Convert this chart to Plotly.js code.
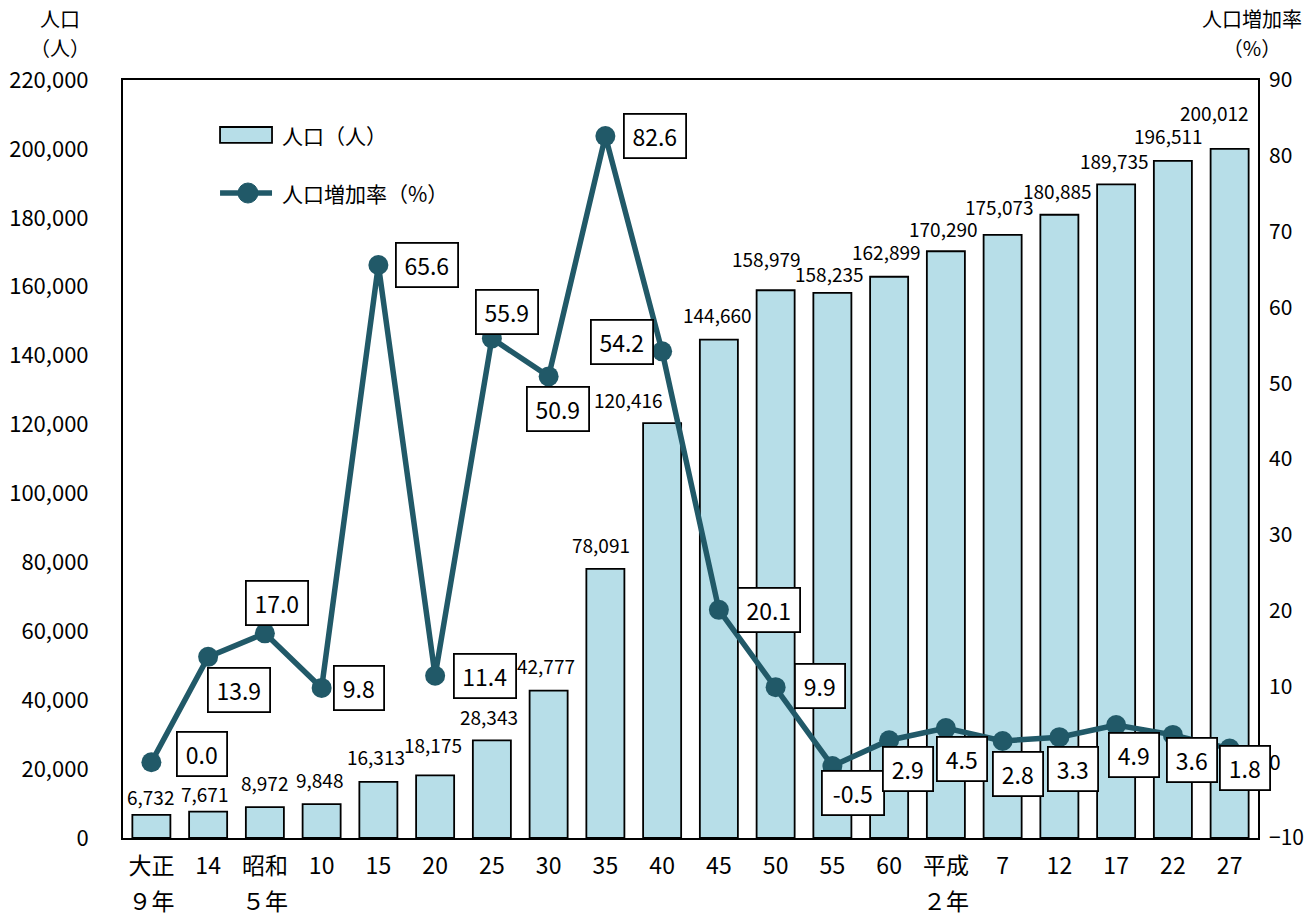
<!DOCTYPE html>
<html>
<head>
<meta charset="utf-8">
<script src="https://cdn.plot.ly/plotly-3.0.1.min.js"></script>
<style>html,body{margin:0;padding:0;background:#fff;}#chart{width:1315px;height:923px;}</style>
</head>
<body>
<div id="chart"></div>
<script>
// ---- data ----
const categories = ['大正<br>９年','14','昭和<br>５年','10','15','20','25','30','35','40','45','50','55','60','平成<br>２年','7','12','17','22','27'];
const population = [6732, 7671, 8972, 9848, 16313, 18175, 28343, 42777, 78091, 120416, 144660, 158979, 158235, 162899, 170290, 175073, 180885, 189735, 196511, 200012];
const growthRate = [0.0, 13.9, 17.0, 9.8, 65.6, 11.4, 55.9, 50.9, 82.6, 54.2, 20.1, 9.9, -0.5, 2.9, 4.5, 2.8, 3.3, 4.9, 3.6, 1.8];
const popName = '人口（人）';
const rateName = '人口増加率（%）';
const leftTitle = '人口<br>（人）';
const rightTitle = '人口増加率<br>（%）';

// ---- label placement (pixel shifts, layout only) ----
const popLabelShift = [[25,18],[22,18],[25,25],[23,25],[29,25],[29,31],[28,24],[28,25],[27,24],[3,24],[35,25],[27,32],[34,19],[34,25],[34,23],[33,28],[35,24],[35,24],[32,25],[21,36]];
const rateLabelShift = [[51,8],[31,-33],[12,30],[37,0],[49,0],[50,0],[15,26],[9,-33],[50,0],[-40,9],[50,0],[44,1],[21,-27],[19,-29],[16,-31],[15,-33],[14,-32],[18,-30],[19,-25],[15,-19]];

const FONT = '"Noto Sans CJK JP", "Noto Sans", sans-serif';
const BAR_COLOR = '#b7dee8';
const LINE_COLOR = '#215968';
const idx = categories.map((_, i) => i);

// glyphs at a smaller size inside a taller line box, so stacked lines sit further apart
const spaced = (txt, px) => txt.split('<br>').map(s => '<span style="font-size:' + px + 'px">' + s + '</span>').join('<br>');
const tickText = categories.map(c => spaced(c, 23));

const bars = {
  type: 'bar', x: idx, y: population, name: popName, width: 0.67,
  marker: {color: BAR_COLOR, line: {color: '#000', width: 1.8}},
  hoverinfo: 'skip'
};
const line = {
  type: 'scatter', mode: 'lines+markers', x: idx, y: growthRate, yaxis: 'y2', name: rateName,
  line: {color: LINE_COLOR, width: 5.5}, marker: {color: LINE_COLOR, size: 20},
  hoverinfo: 'skip'
};

const fmt = v => v.toLocaleString('en-US');
const annotations = [];
population.forEach((v, i) => {
  annotations.push({
    x: i, y: v, xref: 'x', yref: 'y', text: fmt(v), showarrow: false,
    xanchor: 'right', yanchor: 'middle',
    xshift: popLabelShift[i][0], yshift: popLabelShift[i][1],
    font: {family: FONT, size: 19, color: '#000'}
  });
});
growthRate.forEach((v, i) => {
  const t = v.toFixed(1);
  annotations.push({
    x: i, y: v, xref: 'x', yref: 'y2', text: t, showarrow: false,
    xanchor: 'center', yanchor: 'middle',
    xshift: rateLabelShift[i][0], yshift: rateLabelShift[i][1],
    width: t.length > 3 ? 52 : 40,
    bgcolor: '#fff', bordercolor: '#000', borderwidth: 1.8, borderpad: 4,
    font: {family: FONT, size: 23, color: '#000'}
  });
});
// axis titles
annotations.push({xref: 'paper', yref: 'paper', x: -0.0555, y: 1.062, text: spaced(leftTitle, 20), showarrow: false,
  xanchor: 'center', yanchor: 'middle', font: {family: FONT, size: 22, color: '#000'}});
annotations.push({xref: 'paper', yref: 'paper', x: 0.9947, y: 1.062, text: spaced(rightTitle, 20), showarrow: false,
  xanchor: 'center', yanchor: 'middle', font: {family: FONT, size: 22, color: '#000'}});
// legend texts
annotations.push({xref: 'paper', yref: 'paper', x: 0.1383, y: 0.9274, text: popName, showarrow: false,
  xanchor: 'left', yanchor: 'middle', font: {family: FONT, size: 21, color: '#000'}});
annotations.push({xref: 'paper', yref: 'paper', x: 0.1383, y: 0.8509, text: rateName, showarrow: false,
  xanchor: 'left', yanchor: 'middle', font: {family: FONT, size: 21, color: '#000'}});

const shapes = [
  {type: 'rect', xref: 'paper', yref: 'paper', x0: 0.0855, x1: 0.1313, y0: 0.917, y1: 0.938,
   fillcolor: BAR_COLOR, line: {color: '#000', width: 1.8}},
  {type: 'line', xref: 'paper', yref: 'paper', x0: 0.0855, x1: 0.1313, y0: 0.8509, y1: 0.8509,
   line: {color: LINE_COLOR, width: 5.5}},
  {type: 'circle', xref: 'paper', yref: 'paper', x0: 0.1101 - 0.0088, x1: 0.1101 + 0.0088,
   y0: 0.8509 - 0.0132, y1: 0.8509 + 0.0132, fillcolor: LINE_COLOR, line: {color: LINE_COLOR, width: 1}}
];

const layout = {
  width: 1315, height: 923,
  margin: {l: 123, r: 57, t: 80, b: 85},
  paper_bgcolor: '#fff', plot_bgcolor: '#fff',
  showlegend: false,
  font: {family: FONT, color: '#000'},
  xaxis: {
    range: [-0.5, 19.5], tickmode: 'array', tickvals: idx, ticktext: tickText,
    showline: true, mirror: true, linecolor: '#000', linewidth: 2,
    showgrid: false, zeroline: false, ticks: '', ticklabelstandoff: 2,
    tickfont: {family: FONT, size: 27, color: '#000'}, fixedrange: true
  },
  yaxis: {
    range: [0, 220000], dtick: 20000, tick0: 0, tickformat: ',',
    showline: true, mirror: true, linecolor: '#000', linewidth: 2,
    showgrid: false, zeroline: false, ticks: '', ticklabelstandoff: 28,
    tickfont: {family: FONT, size: 22, color: '#000'}
  },
  yaxis2: {
    overlaying: 'y', side: 'right', range: [-10, 90], dtick: 10, tick0: 0,
    showline: false, showgrid: false, zeroline: false, ticks: '', ticklabelstandoff: 10,
    tickfont: {family: FONT, size: 21, color: '#000'}
  },
  annotations: annotations,
  shapes: shapes
};

Plotly.newPlot('chart', [bars, line], layout, {displayModeBar: false, staticPlot: true});
</script>
</body>
</html>
